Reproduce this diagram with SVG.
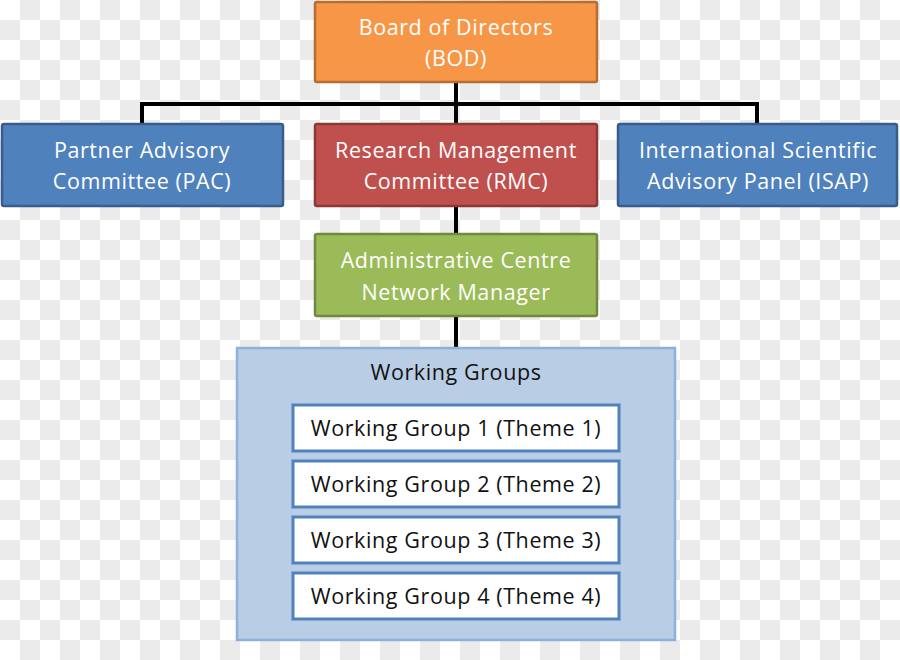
<svg xmlns="http://www.w3.org/2000/svg" width="900" height="660" viewBox="0 0 900 660">
<defs>
<pattern id="checker" x="0" y="0" width="40" height="40" patternUnits="userSpaceOnUse">
<rect width="40" height="40" fill="#ffffff"/>
<rect x="20" y="0" width="20" height="20" fill="#ebebeb"/>
<rect x="0" y="20" width="20" height="20" fill="#ebebeb"/>
</pattern>
<style>
.t{font-family:"Open Sans","Liberation Sans","DejaVu Sans",sans-serif;font-size:21.5px;letter-spacing:0.6px;text-anchor:middle;dominant-baseline:central}
.w{fill:#ffffff}
.k{fill:#111111}
.conn{stroke:#000000;stroke-width:4;fill:none}
.wg{fill:#ffffff;stroke:#4f81bd;stroke-width:3}
</style>
</defs>
<rect width="900" height="660" fill="url(#checker)"/>
<g id="connectors">
<path class="conn" d="M456,82 V124"/>
<path class="conn" d="M142,124 V104 H757 V124"/>
<path class="conn" d="M456,206 V234"/>
<path class="conn" d="M456,316 V348"/>
</g>
<g id="bod">
<rect x="315" y="2" width="282" height="80" rx="2" fill="#f79646" stroke="#b66d31" stroke-width="2.5"/>
<text class="t w" x="456" y="26">Board of Directors</text>
<text class="t w" x="456" y="57">(BOD)</text>
</g>
<g id="pac">
<rect x="2" y="124" width="281" height="82" rx="2" fill="#4f81bd" stroke="#385d8a" stroke-width="2.5"/>
<text class="t w" x="142" y="149">Partner Advisory</text>
<text class="t w" x="142" y="180">Committee (PAC)</text>
</g>
<g id="rmc">
<rect x="315" y="124" width="282" height="82" rx="2" fill="#c0504d" stroke="#8c3836" stroke-width="2.5"/>
<text class="t w" x="456" y="149">Research Management</text>
<text class="t w" x="456" y="180">Committee (RMC)</text>
</g>
<g id="isap">
<rect x="618" y="124" width="279" height="82" rx="2" fill="#4f81bd" stroke="#385d8a" stroke-width="2.5"/>
<text class="t w" x="758" y="149">International Scientific</text>
<text class="t w" x="758" y="180">Advisory Panel (ISAP)</text>
</g>
<g id="admin">
<rect x="315" y="234" width="282" height="82" rx="2" fill="#9bbb59" stroke="#71893f" stroke-width="2.5"/>
<text class="t w" x="456" y="259">Administrative Centre</text>
<text class="t w" x="456" y="291">Network Manager</text>
</g>
<g id="working-groups">
<rect x="237" y="348" width="438" height="292" fill="#b9cde5" stroke="#8eb1d9" stroke-width="2.5"/>
<text class="t k" x="456" y="371">Working Groups</text>
</g>
<g id="wg1">
<rect class="wg" x="293" y="405" width="326" height="46"/>
<text class="t k" x="456" y="427">Working Group 1 (Theme 1)</text>
</g>
<g id="wg2">
<rect class="wg" x="293" y="461" width="326" height="46"/>
<text class="t k" x="456" y="483">Working Group 2 (Theme 2)</text>
</g>
<g id="wg3">
<rect class="wg" x="293" y="517" width="326" height="46"/>
<text class="t k" x="456" y="539">Working Group 3 (Theme 3)</text>
</g>
<g id="wg4">
<rect class="wg" x="293" y="573" width="326" height="46"/>
<text class="t k" x="456" y="595">Working Group 4 (Theme 4)</text>
</g>
</svg>
